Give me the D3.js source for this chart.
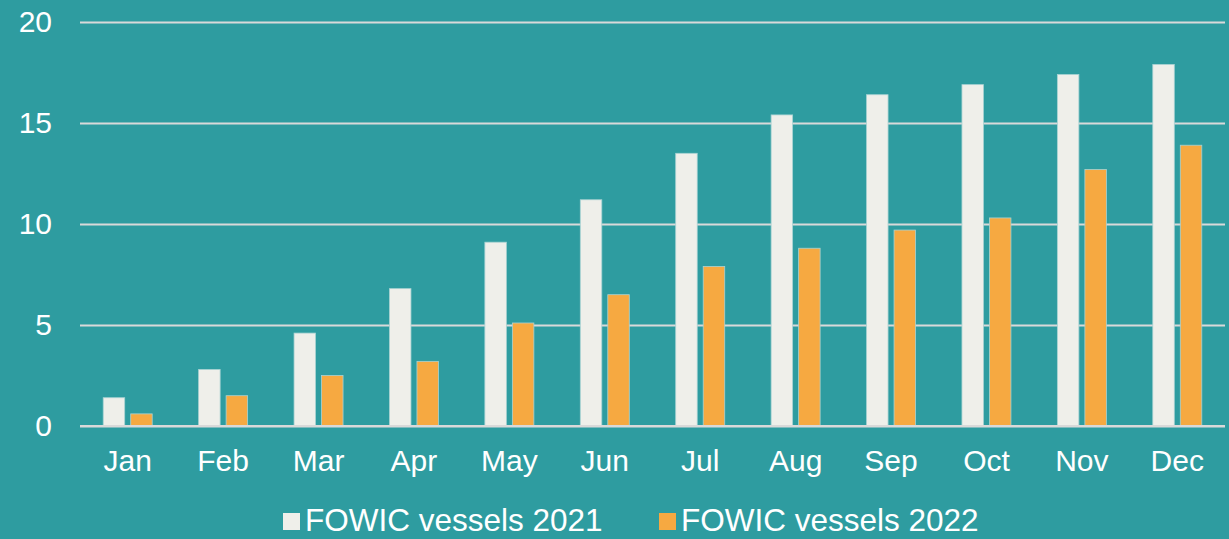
<!DOCTYPE html>
<html>
<head>
<meta charset="utf-8">
<script src="https://cdn.jsdelivr.net/npm/d3@7"></script>
<style>
    html, body { margin: 0; padding: 0; background: #2e9ca0; }
    #chart { width: 1229px; height: 539px; }
    text { font-family: "Liberation Sans", Arial, sans-serif; fill: #ffffff; }
</style>
</head>
<body>
<div id="chart"></div>
<script>
// chart data
let months = ["Jan", "Feb", "Mar", "Apr", "May", "Jun", "Jul", "Aug", "Sep", "Oct", "Nov", "Dec"];
let series = ["FOWIC vessels 2021", "FOWIC vessels 2022"];
let vessels2021 = [1.4, 2.8, 4.6, 6.8, 9.1, 11.2, 13.5, 15.4, 16.4, 16.9, 17.4, 17.9];
let vessels2022 = [0.6, 1.5, 2.5, 3.2, 5.1, 6.5, 7.9, 8.8, 9.7, 10.3, 12.7, 13.9];
let yTicks = [0, 5, 10, 15, 20];

let colors = {"FOWIC vessels 2021": "#efefea", "FOWIC vessels 2022": "#f6a941"};

let width = 1229, height = 539;
let margin = {top: 22, right: 4, bottom: 113, left: 80};

let svg = d3.select("#chart").append("svg")
    .attr("width", width)
    .attr("height", height);

svg.append("rect")
    .attr("width", width)
    .attr("height", height)
    .attr("fill", "#2e9ca0");

// scales
let x = d3.scaleBand()
    .domain(months)
    .range([margin.left, width - margin.right])
    .padding(0);

let groupW = 49;
let x1 = d3.scaleBand()
    .domain(series)
    .range([x.bandwidth() / 2 - groupW / 2, x.bandwidth() / 2 + groupW / 2])
    .paddingInner(0.218)
    .paddingOuter(0);

let y = d3.scaleLinear()
    .domain([0, 20])
    .range([height - margin.bottom, margin.top]);

// gridlines + y labels
let yAxis = d3.axisLeft(y)
    .tickValues(yTicks)
    .tickSize(-(width - margin.left - margin.right))
    .tickPadding(28)
    .tickFormat(d3.format("d"));

let gy = svg.append("g")
    .attr("transform", `translate(${margin.left},0)`)
    .call(yAxis);
gy.select(".domain").remove();
gy.selectAll(".tick line")
    .attr("stroke", "#d9d9d9")
    .attr("stroke-width", 2);
gy.selectAll(".tick text")
    .style("font-size", "30px")
    .attr("fill", "#ffffff");

// bars
let rows = months.map((m, i) => ({month: m, values: [
    {key: series[0], value: vessels2021[i]},
    {key: series[1], value: vessels2022[i]}
]}));

let groups = svg.append("g").selectAll("g")
    .data(rows)
    .enter()
    .append("g")
    .attr("transform", (d) => `translate(${x(d.month)},0)`);

groups.selectAll("rect")
    .data((d) => d.values)
    .enter()
    .append("rect")
    .attr("x", (d) => x1(d.key))
    .attr("y", (d) => y(d.value))
    .attr("width", x1.bandwidth())
    .attr("height", (d) => y(0) - y(d.value))
    .attr("fill", (d) => colors[d.key])
    .attr("stroke", "#a9d3d3")
    .attr("stroke-width", 0.8);

// zero line on top
svg.append("line")
    .attr("x1", margin.left)
    .attr("x2", width - margin.right)
    .attr("y1", y(0))
    .attr("y2", y(0))
    .attr("stroke", "#d9d9d9")
    .attr("stroke-width", 2);

// x labels
let xAxis = d3.axisBottom(x).tickSize(0).tickPadding(24);
let gx = svg.append("g")
    .attr("transform", `translate(0,${y(0)})`)
    .call(xAxis);
gx.select(".domain").remove();
gx.selectAll(".tick text")
    .style("font-size", "30px")
    .attr("fill", "#ffffff");

// legend
let legendX = [283, 659];
let legend = svg.append("g").selectAll("g")
    .data(series)
    .enter()
    .append("g")
    .attr("transform", (d, i) => `translate(${legendX[i]},513)`);

legend.append("rect")
    .attr("width", 17)
    .attr("height", 17)
    .attr("fill", (d) => colors[d]);

legend.append("text")
    .attr("x", 22)
    .attr("y", 18)
    .style("font-size", "31.5px")
    .text((d) => d);
</script>
</body>
</html>
